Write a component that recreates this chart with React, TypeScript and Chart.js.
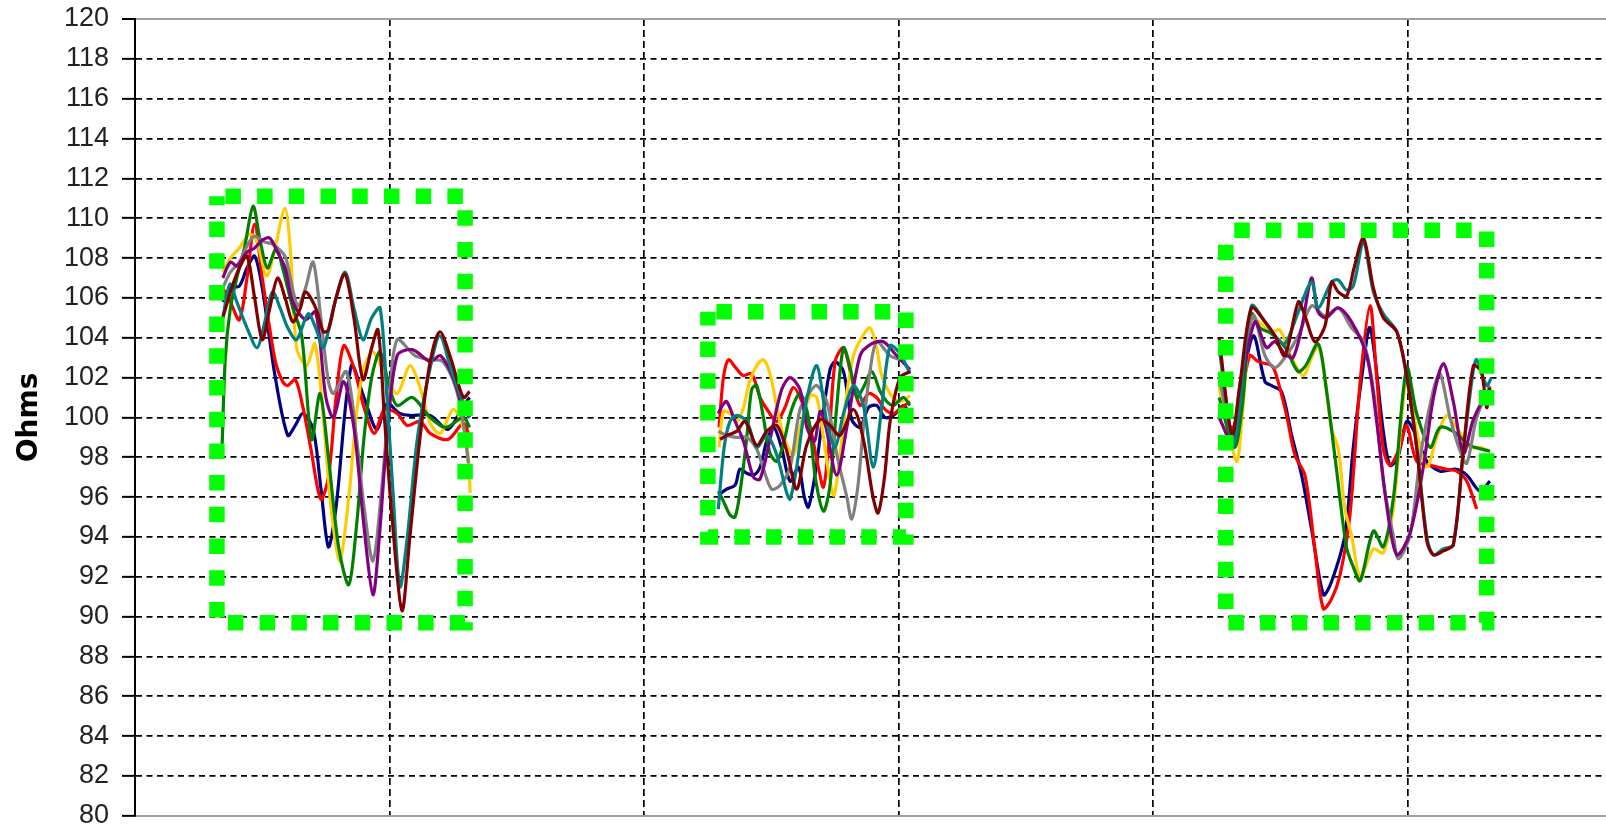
import React, { useEffect, useRef } from 'react';
import { Chart, registerables } from 'chart.js';

Chart.register(...registerables);

const Y_MIN = 80;
const Y_MAX = 120;
const Y_STEP = 2;
const X_MIN = 0;
const X_MAX = 578;
const X_STEP = 100;
const Y_TITLE = 'Ohms';

type Pt = [number, number];

// ---- Group 1 (sample index, ohms)
const G1_NAVY: Pt[] = [[34.5,105.8],[37.5,106.5],[41,106.6],[44,107.5],[47,108.1],[50,106.5],[55,102.1],[60,99.1],[63,99.6],[66,100.2],[70,99.4],[73,96.5],[76,93.5],[79,95.5],[85,102.6],[90,101],[95,99.4],[99,100.7],[104,100.2],[108,100.1],[116,100.1],[123,99.4],[129,100.6],[131.5,101]];
const G1_RED: Pt[] = [[34.5,106.5],[37.5,105.8],[41,104.9],[44,107],[47,109.7],[50,107],[55,102.9],[58,101.8],[60,101.6],[63,101.9],[66,100.5],[69,98.5],[73,95.9],[76,97],[79,101],[82,103.6],[86,102.5],[90,100.5],[94,99.2],[98,100.4],[103,100.2],[107,99.6],[112,99.8],[116,99.2],[123,98.9],[129,99.7],[131.5,99]];
const G1_GOLD: Pt[] = [[34.5,107.3],[37.5,108],[41,108.5],[45,109.2],[48,108.8],[51.7,107.1],[55,108.5],[58.9,110.5],[61,108.5],[63.5,103.5],[67.5,102.6],[70.7,103.7],[74,100],[77,95.5],[80.5,92.8],[84,96],[87.2,100.4],[90,102.5],[93.5,103.3],[98,102.2],[103,101.2],[108,102.6],[112,101.5],[116,99.7],[120,99.2],[125,100.4],[129,99.5],[131,98],[131.7,96.2]];
const G1_GREEN: Pt[] = [[34.2,98.5],[35.5,103],[37.5,105.5],[40,107],[43,108.5],[46.4,110.6],[49,109],[52,107.5],[55.5,108.5],[58,107.5],[62,105.5],[65.5,104.1],[69.4,98.9],[72.7,101.2],[76,98],[80,93.5],[84,91.6],[87,94.5],[90,99],[93,102],[96.3,103.3],[100,101.5],[103,100.6],[109,101],[116,100],[122,99.5],[129,100],[131.5,99.5]];
const G1_GRAY: Pt[] = [[34.5,106.5],[37.5,107.3],[41,107.8],[44,108.6],[47,109.1],[51,108.8],[54,108.7],[58.9,108.1],[61,107],[64,105.6],[67,106.5],[70,107.8],[73,105],[76,101.8],[78,101.2],[83,102.3],[87,99],[90,95.5],[93.5,92.8],[97,96.5],[100,101],[103,103.9],[110,103.1],[116,102.9],[121,102.8],[126,101.5],[129,99.7],[131,97.7]];
const G1_PURPLE: Pt[] = [[34.5,107],[37.5,107.8],[40,107.6],[44,108.3],[47,108.5],[50,108.9],[53,109],[56,108.3],[59,107.5],[62,105.8],[67,104.9],[71,105.3],[75,101],[78,100],[82,101.8],[86,99.5],[90,94.5],[93.5,91.1],[96,94],[99,99],[103,103.1],[109,103.4],[116,102.8],[120,103.1],[125,102],[129,100.4],[131.5,100]];
const G1_TEAL: Pt[] = [[34.5,105],[37.3,106.7],[40,105.8],[44,104.5],[48,103.5],[51,104.8],[54,106.3],[57,105.5],[60,104.5],[63.5,103.9],[68,105.2],[71,104.5],[74,103.5],[78,105.5],[82.5,107.3],[86,105.5],[89.6,103.9],[93,105],[96.3,105.5],[99,101],[101.5,96],[104.1,91.5],[107,94],[111,99],[116,102.5],[119.8,104.1],[124,102.5],[129,100.7],[131.5,100]];
const G1_MAROON: Pt[] = [[34.5,105],[38,106.5],[41,107.5],[44,108.1],[47,106],[50,103.9],[53,105.5],[56,107],[59,106],[62,104.8],[65,105.5],[67,106.3],[71,105.5],[74,104.3],[76,104.4],[79,106],[82.5,107.2],[86,105],[89.6,101.9],[93,103.5],[95.5,104.4],[98,100],[101,95],[104.9,90.3],[108,94],[112,99],[116,102.8],[119.8,104.3],[124,103],[129,101],[131.5,101.3]];

// ---- Group 2
const G2_NAVY: Pt[] = [[229.2,96.1],[232.5,96.4],[235.8,96.6],[237.7,97.4],[240.4,97.2],[243,97.1],[245.6,97.5],[248.2,98.8],[251,99.5],[254,98.5],[257.4,96.8],[260.7,97.5],[263,96],[264.6,95.5],[267.3,97.2],[270.5,100.3],[273.1,102.4],[275.1,102.8],[278.4,102.3],[281.6,99.9],[284.9,99.5],[288.2,100.5],[291.4,100.6],[294.7,100],[298,100.1],[301.9,100.6],[304.5,100.2]];
const G2_RED: Pt[] = [[229.5,99.5],[231.2,102],[233.2,102.9],[236,102.5],[239,102.1],[242.3,102.2],[245.6,101],[248.9,100.3],[252.2,99.8],[255.4,100.5],[258.7,101.5],[262,100.8],[265.3,99.5],[268.5,97.5],[270.5,96.5],[272.5,98.5],[275.1,102.8],[278.4,103.5],[281.6,102],[284.9,100.6],[288.2,101.2],[291.4,101],[294.7,100.4],[298,100.2],[301.3,100.5],[304.5,100.8]];
const G2_GOLD: Pt[] = [[229.5,98.5],[231.2,100.3],[233.8,100.2],[236.4,99.8],[239.1,100.5],[241.5,101.8],[244.3,102.6],[246.9,102.9],[249.5,102.2],[252.2,100.5],[255,99],[258.7,98.1],[261.3,99.5],[265.3,101.1],[267.9,101],[270.5,99],[274.4,96.1],[276.5,97.5],[279.5,101],[282.3,103.1],[285.5,104],[288.8,104.5],[291.4,103.5],[293.4,102.1],[296.7,101.2],[300,100.8],[302.5,100.9],[304.5,101.1]];
const G2_GREEN: Pt[] = [[229.2,96.3],[231.2,95.8],[233.8,95.1],[235.8,95],[238,96.5],[240.4,99],[242.3,101.4],[244.3,101.6],[246.9,100],[249.5,98.2],[252.2,97.8],[255,98.8],[258,100.4],[261.3,101.2],[264.6,100],[267.3,97],[270.5,95.3],[273,96.5],[275.7,100.5],[278.4,103.5],[281,102.5],[283.6,101],[286.2,101.5],[289.5,102.3],[292.8,101.3],[295.4,100.8],[298,100.6],[301.9,101],[304.5,100.6]];
const G2_GRAY: Pt[] = [[229.2,99.3],[232.5,99.1],[236.4,99],[240.4,99],[244.3,98.4],[247.5,97.2],[250.2,96.4],[253.5,96.6],[257.4,97.5],[261.3,100.4],[265.3,101.3],[267.9,101.6],[271.8,100.8],[276,98],[279.7,96],[281.6,94.9],[284,96.5],[286.2,99.5],[288.5,102],[291.4,103.8],[296.7,103.1],[301.9,102.8],[304.5,102.3]];
const G2_PURPLE: Pt[] = [[229.2,100.2],[230.8,100.6],[232.5,100.8],[235.8,99.8],[239.1,98.8],[243,97],[245.6,96.9],[249.5,98.9],[254.1,101.4],[257.4,102],[261.3,101.4],[264,99.5],[267,98.8],[269.2,100.3],[271.5,99.5],[275.7,97.1],[279.7,99.5],[284.9,103.1],[289.5,103.7],[294.1,103.8],[299.3,103.1],[304.5,102.4]];
const G2_TEAL: Pt[] = [[229.2,95.4],[231.5,98.5],[233.8,99.8],[236.4,100.1],[240.4,99.8],[244.3,98.5],[248.2,99.1],[252.2,98.1],[256.1,96.2],[257.4,95.9],[260,97.5],[263.3,100.5],[267.9,102.6],[271.8,99.8],[275.1,98.5],[278.4,100.2],[282.3,101.6],[286.2,100.6],[290.1,97.5],[293.4,100.5],[296.7,103.6],[300.6,103.2],[304.5,102.2]];
const G2_MAROON: Pt[] = [[229.9,98.9],[232.5,99.1],[236.4,99.3],[239.7,99.8],[244.3,98.6],[248.2,99.3],[252.2,99.6],[256.1,98.3],[260,96.4],[263.9,98.6],[269.2,99.9],[273.1,99.6],[277,99.1],[282.3,100.4],[286.2,98.9],[290,96],[292,95.2],[294.5,97],[296.7,99.8],[300.6,102],[304.5,102.3]];

// ---- Group 3
const G3_NAVY: Pt[] = [[426,102],[431,99.2],[434,101],[439.4,104.1],[444,101.8],[446.6,101.6],[450.5,101.3],[454.5,99.1],[458.4,97.1],[462.3,94.4],[467,91.1],[470,91.7],[475.4,94.1],[478.7,98.5],[482,102],[485.3,104.5],[490.5,99.3],[493.1,97.6],[496,97.9],[499.7,99.8],[503,99.2],[507.6,97.8],[512.8,97.3],[519.3,97.4],[523.3,97.1],[528.5,96.3],[532.4,96.8]];
const G3_RED: Pt[] = [[426,100.5],[431,99.5],[434,100.5],[438,103.1],[441.4,102.8],[446.6,102.6],[448.5,102.1],[452.5,100.1],[455.8,98.1],[459.7,97.1],[463.6,93.4],[466.9,90.4],[470.2,90.9],[473.5,92.1],[477.4,95.1],[481.4,101.8],[485.3,105.6],[487.9,102],[490.5,98.4],[493.1,97.6],[497,98.5],[499.7,99.6],[503.6,97.8],[508.9,97.6],[515.4,97.4],[519.3,97.3],[523.3,96.8],[527.2,95.4]];
const G3_GOLD: Pt[] = [[426,101.5],[432.8,97.8],[435,100],[438.7,105],[442.5,104.7],[446.6,104.3],[449.8,104.4],[454.5,103],[459,102.1],[462.3,103],[464.9,103.6],[467.6,102],[470,99.5],[472.8,98.4],[475.4,95.4],[478,94.1],[481.4,92],[486.6,93.4],[490.5,93.2],[494.5,95.5],[499.7,102.1],[503.6,99.3],[507.6,97.5],[511.5,99],[515.4,100.1],[519.3,99.5],[524.6,98.5],[528.5,98.5],[532.4,98.3]];
const G3_GREEN: Pt[] = [[426,101],[432,98.5],[435,100.5],[438.7,105.2],[442,104.5],[446.6,104.2],[452,103.5],[457,102.3],[460,102.6],[464.9,103.7],[468,101.5],[472,97.5],[476,93.5],[478.7,92.5],[481.4,91.8],[486.6,94.3],[490.5,93.5],[494.5,96],[499.7,102.5],[503.6,100.2],[508.9,98.5],[512.8,99.5],[518,99.3],[524.6,98.6],[532.4,98.3]];
const G3_GRAY: Pt[] = [[426,102],[431.5,99],[434,101.5],[439.4,105.1],[444,103.1],[447.9,102.5],[451.8,103],[457.1,104.1],[462.3,105.6],[467.6,105.1],[472.8,105.5],[478,104.5],[482.7,103.8],[486.6,101.4],[490.5,96.8],[494.5,94],[496.4,92.9],[501,94.1],[505,98],[510.2,101.4],[512.8,102.2],[516.7,100],[520.7,98.3],[523.3,97.7],[527.2,100],[532.4,101.6]];
const G3_PURPLE: Pt[] = [[426,100],[431.5,98.6],[434,101],[440,104.8],[444.6,103.5],[447.9,103.8],[451.8,103.2],[455,103],[458.4,104.5],[462.3,107],[464.9,105.3],[468,105],[472.8,105.5],[478,104.8],[484,103.1],[487.9,99.8],[491.8,95.6],[495.8,93.1],[501,94.2],[506.2,97.5],[510.2,101],[514.1,102.7],[518,100.8],[522,98.2],[525.9,99.9],[531.1,101.1],[533,101]];
const G3_TEAL: Pt[] = [[426,103.5],[431.5,98.6],[434,100.5],[438.7,105.6],[444,104.8],[447.9,104.1],[451.8,103.7],[457.1,105.3],[462.3,106.8],[464.9,105.5],[470.2,106.8],[472.8,106.9],[476,106.4],[478.7,106.6],[482.7,108.8],[486.6,106.3],[490.5,105.2],[495.8,104.3],[499.7,102],[503.6,98.5],[507.6,94],[510.2,93.1],[514.1,93.4],[518,93.6],[522,98.4],[525.9,102.4],[527.2,102.9],[531.1,101.6],[533,102]];
const G3_MAROON: Pt[] = [[426,104],[431,99.1],[434,101.5],[438.7,105.5],[444,104.8],[447.9,104.1],[451.8,103.1],[457.1,105.8],[459.7,105.1],[463.6,103.8],[467.6,104.6],[470.2,106.8],[472.8,106.3],[476.1,106.1],[479,107.5],[482.7,109],[486.6,106.5],[490.5,105],[495.8,104.3],[499.7,102.1],[503.6,98.5],[507.6,93.8],[510.2,93.1],[514.1,93.3],[518,93.6],[522,98.4],[525.9,102.6],[529,102.3],[531.1,100.5],[532.4,101.5]];

// gaps between the three measurement groups
const GROUP_BREAKS = [180, 380];

// dotted highlight boxes: [x from, x to], [y from, y to]
const BOX_X: Pt[] = [[32.2, 129.7], [225.1, 302.9], [428.6, 531.1]];
const BOX_Y: Pt[] = [[89.7, 111.1], [94.0, 105.3], [89.7, 109.4]];

const SERIES_NAMES = ['Navy', 'Red', 'Gold', 'Green', 'Gray', 'Purple', 'Teal', 'Maroon'];
const SERIES_COLORS = ['#000080', '#ff0000', '#ffcc00', '#008000', '#808080', '#800080', '#008080', '#800000'];
const SERIES_GROUPS: Pt[][][] = [
  [G1_NAVY, G2_NAVY, G3_NAVY],
  [G1_RED, G2_RED, G3_RED],
  [G1_GOLD, G2_GOLD, G3_GOLD],
  [G1_GREEN, G2_GREEN, G3_GREEN],
  [G1_GRAY, G2_GRAY, G3_GRAY],
  [G1_PURPLE, G2_PURPLE, G3_PURPLE],
  [G1_TEAL, G2_TEAL, G3_TEAL],
  [G1_MAROON, G2_MAROON, G3_MAROON],
];

const toPts = (arr: Pt[]) => arr.map(([x, y]) => ({ x, y }));

export default function App() {
  const ref = useRef<HTMLCanvasElement | null>(null);

  useEffect(() => {
    if (!ref.current) return;

    const lineSets: any[] = SERIES_GROUPS.map((groups, i) => {
      const data: any[] = [];
      groups.forEach((g, gi) => {
        data.push(...toPts(g));
        if (gi < GROUP_BREAKS.length) data.push({ x: GROUP_BREAKS[gi], y: null });
      });
      return {
        label: SERIES_NAMES[i],
        data,
        borderColor: SERIES_COLORS[i],
        backgroundColor: SERIES_COLORS[i],
        borderWidth: 3.2,
        pointRadius: 0,
        tension: 0.3,
        fill: false,
        spanGaps: false,
        borderJoinStyle: 'round',
        order: SERIES_NAMES.length - i + 1,
      };
    });

    const boxSets: any[] = BOX_X.map((bx, i) => {
      const [x0, x1] = bx;
      const [y0, y1] = BOX_Y[i];
      return {
        label: 'box' + (i + 1),
        data: [
          { x: x0, y: y1 },
          { x: x1, y: y1 },
          { x: x1, y: y0 },
          { x: x0, y: y0 },
          { x: x0, y: y1 },
        ],
        borderColor: '#00ff00',
        borderWidth: 15.5,
        borderDash: [15.5, 16.2],
        borderDashOffset: 23.2,
        borderCapStyle: 'butt',
        borderJoinStyle: 'miter',
        pointRadius: 0,
        tension: 0,
        fill: false,
        order: 0,
      };
    });

    const tickVal = (c: any) => (c && c.tick ? c.tick.value : undefined);

    const chart = new Chart(ref.current, {
      type: 'line',
      data: { datasets: [...lineSets, ...boxSets] },
      options: {
        animation: false,
        responsive: false,
        maintainAspectRatio: false,
        devicePixelRatio: 1,
        layout: { autoPadding: false, padding: { top: 19, bottom: 13, left: 0, right: 0 } },
        plugins: { legend: { display: false }, tooltip: { enabled: false } },
        scales: {
          x: {
            type: 'linear',
            min: X_MIN,
            max: X_MAX,
            ticks: { display: false, stepSize: X_STEP },
            grid: {
              drawTicks: false,
              lineWidth: 1.7,
              color: (c: any) => {
                const v = tickVal(c);
                return v !== undefined && v > 0 && v % X_STEP === 0 ? '#000' : 'rgba(0,0,0,0)';
              },
            },
            border: { display: true, color: '#a0a0a0', width: 2, dash: [7, 4] },
            afterFit: (s: any) => { s.height = 0; },
          },
          y: {
            min: Y_MIN,
            max: Y_MAX,
            ticks: {
              stepSize: Y_STEP,
              padding: 13,
              color: '#222',
              font: { family: "'Liberation Sans', Arial, sans-serif", size: 27, lineHeight: 0.01 },
            },
            grid: {
              drawTicks: true,
              tickLength: 13,
              tickWidth: 2,
              tickColor: '#000',
              tickBorderDash: [],
              lineWidth: (c: any) => (tickVal(c) === Y_MAX ? 2 : 1.7),
              color: (c: any) => {
                const v = tickVal(c);
                if (v === Y_MAX) return '#a0a0a0';
                if (v === Y_MIN) return 'rgba(0,0,0,0)';
                return '#000';
              },
            },
            border: {
              display: true,
              color: '#000',
              width: 2,
              dash: (c: any) => (tickVal(c) === Y_MAX ? [] : [6, 4.5]),
            },
            title: {
              display: true,
              text: Y_TITLE,
              color: '#000',
              padding: { top: 13, bottom: 0 },
              font: { family: "'DejaVu Sans', Verdana, sans-serif", size: 28, weight: 'bold', lineHeight: 1.2 },
            },
            afterFit: (s: any) => { s.width = 135; },
          },
        },
      },
    } as any);

    return () => chart.destroy();
  }, []);

  return (
    <div style={{ position: 'absolute', left: 0, top: 0, width: 1606, height: 829, background: '#fff' }}>
      <canvas ref={ref} width={1606} height={829} style={{ display: 'block' }} />
    </div>
  );
}
